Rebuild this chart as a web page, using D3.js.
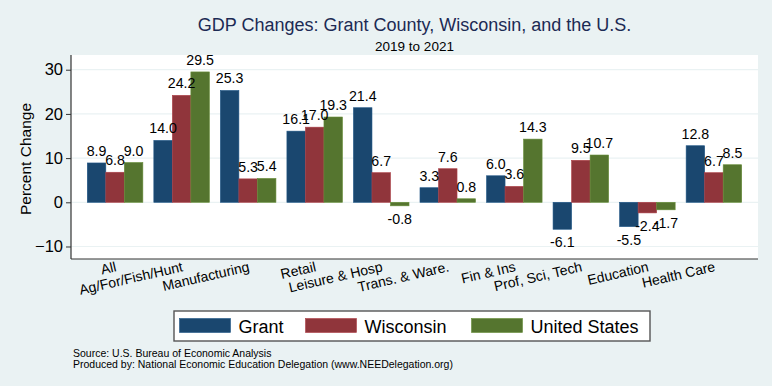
<!DOCTYPE html>
<html><head><meta charset="utf-8">
<script src="https://cdn.jsdelivr.net/npm/d3@7"></script>
<style>body{margin:0;background:#eaf2f3;} svg{display:block;font-family:"Liberation Sans",Arial,Helvetica,sans-serif;}</style>
</head><body>
<svg id="c" width="772" height="386"></svg>
<script>
const categories = ["All","Ag/For/Fish/Hunt","Manufacturing","Retail","Leisure & Hosp","Trans. & Ware.","Fin & Ins","Prof, Sci, Tech","Education","Health Care"];
const seriesNames = ["Grant","Wisconsin","United States"];
const grant = [8.9,14.0,25.3,16.1,21.4,3.3,6.0,-6.1,-5.5,12.8];
const wisconsin = [6.8,24.2,5.3,17.0,6.7,7.6,3.6,9.5,-2.4,6.7];
const unitedStates = [9.0,29.5,5.4,19.3,-0.8,0.8,14.3,10.7,-1.7,8.5];
const yTicks = [-10,0,10,20,30];
const colors = ["#1a476f","#90353b","#55752f"];
const titleText = "GDP Changes: Grant County, Wisconsin, and the U.S.";
const subtitleText = "2019 to 2021";
const yTitle = "Percent Change";
const notes = ["Source: U.S. Bureau of Economic Analysis","Produced by: National Economic Education Delegation (www.NEEDelegation.org)"];

const series = [grant, wisconsin, unitedStates];
const svg = d3.select("#c");
svg.append("rect").attr("width",772).attr("height",386).attr("fill","#eaf2f3");

const L=71, R=758, T=55, B=259;
const y = d3.scaleLinear().domain([-12.83,33.33]).range([B,T]);
const x = d3.scaleBand().domain(categories).range([L,R]).paddingInner(0.165).paddingOuter(0.245);
const xs = d3.scaleBand().domain(seriesNames).range([0,x.bandwidth()]);

svg.append("rect").attr("x",L).attr("y",T).attr("width",R-L).attr("height",B-T).attr("fill","#ffffff");

// gridlines
svg.append("g").selectAll("line").data(yTicks).join("line")
  .attr("x1",L).attr("x2",R).attr("y1",d=>y(d)).attr("y2",d=>y(d))
  .attr("stroke","#eaf2f3").attr("stroke-width",1.2);

// bars
const groups = svg.append("g").selectAll("g").data(categories).join("g")
  .attr("transform",d=>`translate(${x(d)},0)`);
groups.each(function(cat,i){
  const g = d3.select(this);
  seriesNames.forEach((s,j)=>{
    const v = series[j][i];
    g.append("rect").attr("x",xs(s)).attr("width",xs.bandwidth())
      .attr("y",y(Math.max(0,v))).attr("height",Math.abs(y(v)-y(0)))
      .attr("fill",colors[j]).attr("stroke",d3.color(colors[j]).brighter(0.5)).attr("stroke-width",0.6);
  });
  seriesNames.forEach((s,j)=>{
    const v = series[j][i];
    g.append("text").attr("x",xs(s)+xs.bandwidth()/2)
      .attr("y", v>=0 ? y(v)-7 : y(v)+18)
      .attr("text-anchor","middle").attr("font-size",14.2).attr("fill","#000")
      .text(v.toFixed(1));
  });
});

const yAxis = d3.axisLeft(y).tickValues(yTicks).tickSize(5).tickPadding(3);
const ya = svg.append("g").attr("transform",`translate(${L},0)`).call(yAxis);
ya.select(".domain").attr("d",`M0,${T}V${B}`).attr("stroke","#333").attr("stroke-width",1.2);
ya.selectAll(".tick line").attr("stroke","#333");
ya.selectAll(".tick text").attr("font-size",16.5).attr("fill","#000").attr("font-family","Liberation Sans, Arial, sans-serif");

const xAxis = d3.axisBottom(x).tickSize(0).tickFormat("");
const xa = svg.append("g").attr("transform",`translate(0,${B})`).call(xAxis);
xa.select(".domain").attr("d",`M${L},0H${R}`).attr("stroke","#333").attr("stroke-width",1.2);

svg.append("g").selectAll("text").data(categories).join("text")
  .attr("transform",d=>`translate(${x(d)+x.bandwidth()/2+2},271) rotate(-13)`)
  .attr("text-anchor","end").attr("font-size",14).attr("fill","#000").text(d=>d);

// y title
svg.append("text").attr("transform",`translate(31,${(T+B)/2+2}) rotate(-90)`)
  .attr("text-anchor","middle").attr("font-size",15.5).attr("fill","#000").text(yTitle);

// titles
svg.append("text").attr("x",(L+R)/2).attr("y",31).attr("text-anchor","middle")
  .attr("font-size",18).attr("fill","#1c2a54").text(titleText);
svg.append("text").attr("x",(L+R)/2).attr("y",50.5).attr("text-anchor","middle")
  .attr("font-size",13.5).attr("fill","#000").text(subtitleText);

// legend
const lg = svg.append("g");
lg.append("rect").attr("x",174).attr("y",311).attr("width",476).attr("height",30)
  .attr("fill","#fff").attr("stroke","#555").attr("stroke-width",1.4);
const swX = [179.5,305.5,471.5];
seriesNames.forEach((s,j)=>{
  lg.append("rect").attr("x",swX[j]).attr("y",318.5).attr("width",51).attr("height",14)
    .attr("fill",colors[j]).attr("stroke",d3.color(colors[j]).brighter(0.5)).attr("stroke-width",0.6);
  lg.append("text").attr("x",swX[j]+59).attr("y",332.5).attr("font-size",18).attr("fill","#000").text(s);
});

// notes
svg.append("g").selectAll("text").data(notes).join("text")
  .attr("x",73).attr("y",(d,i)=>357+i*10.5).attr("font-size",10.5).attr("fill","#000").text(d=>d);
</script>
</body></html>
